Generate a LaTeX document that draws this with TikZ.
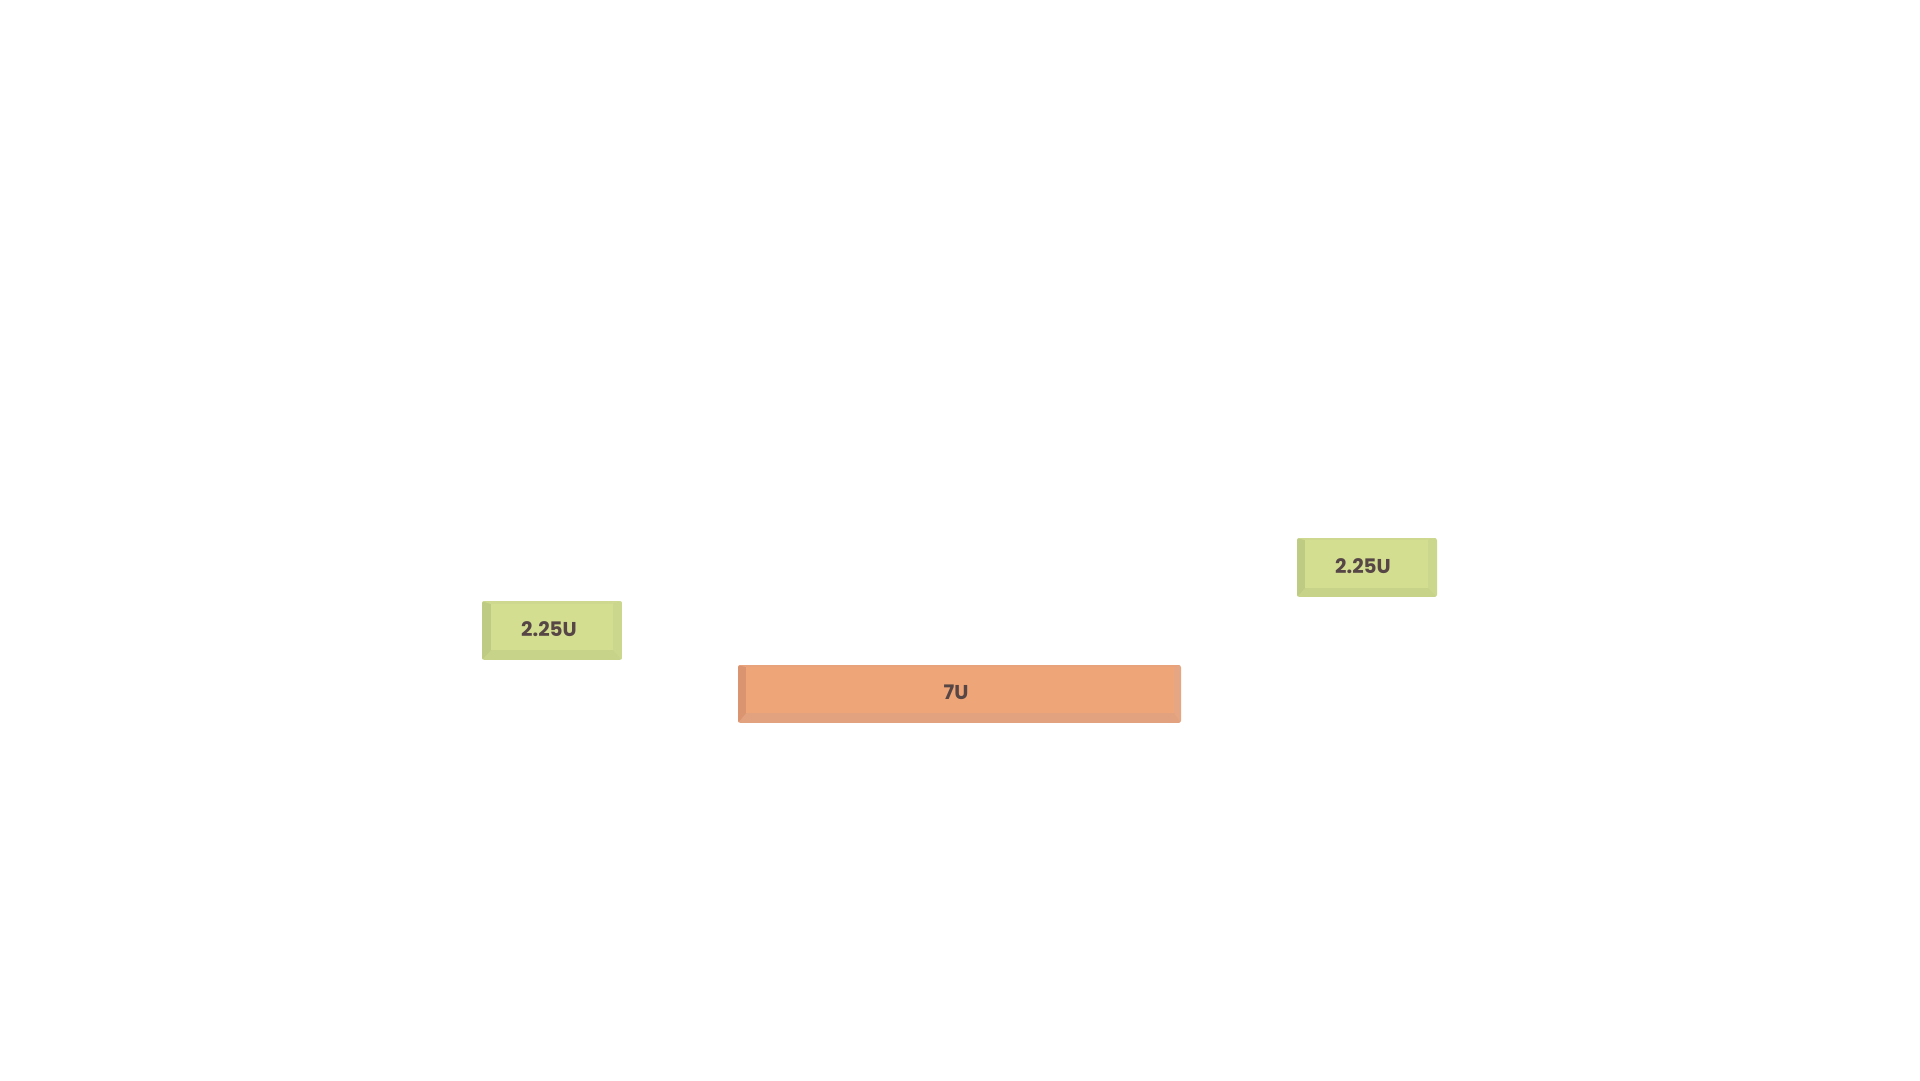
\documentclass[tikz,border=0pt]{standalone}
\usepackage{fontspec}
\setmainfont{Poppins}
\definecolor{gface}{RGB}{211,222,145}
\definecolor{gleft}{RGB}{190,203,130}
\definecolor{gbot}{RGB}{199,211,137}
\definecolor{gright}{RGB}{203,215,141}
\definecolor{gtop}{RGB}{206,217,143}
\definecolor{oface}{RGB}{238,166,120}
\definecolor{oleft}{RGB}{218,149,112}
\definecolor{obot}{RGB}{226,162,127}
\definecolor{oright}{RGB}{230,166,131}
\definecolor{otop}{RGB}{232,162,124}
\definecolor{keytext}{RGB}{86,70,70}
\tikzset{keylabel/.style={text=keytext,font=\fontsize{20}{24}\selectfont\bfseries,inner sep=0pt}}
% #1 colour prefix, #2-#5 outer x1,y1,x2,y2, #6-#9 inner x1,y1,x2,y2
\newcommand{\drawkeycap}[9]{%
  \begin{scope}
    \clip[rounded corners=2.5pt] (#2,#3) rectangle (#4,#5);
    \fill[#1bot] (#2,#3) rectangle (#4,#5);
    \fill[#1left] (#2,#3) -- (#6,#7) -- (#6,#9) -- (#2,#5) -- cycle;
    \fill[#1right] (#4,#3) -- (#8,#7) -- (#8,#9) -- (#4,#5) -- cycle;
    \fill[#1top] (#2,#3) -- (#6,#7) -- (#8,#7) -- (#4,#3) -- cycle;
    \fill[#1face] (#6,#7) rectangle (#8,#9);
  \end{scope}}
\begin{document}
\begin{tikzpicture}[x=1pt,y=-1pt]
\useasboundingbox (0,0) rectangle (1920,1080);
\fill[white] (0,0) rectangle (1920,1080);
\drawkeycap{g}{482}{601}{622}{660}{491}{604}{613}{650}
\node[keylabel] (k1) at (549,629) {2.25U};
\drawkeycap{o}{738}{665}{1181}{723}{746}{667}{1174}{713}
\node[keylabel] (k2) at (956,692) {7U};
\drawkeycap{g}{1297}{538}{1437}{597}{1305}{540}{1428}{588}
\node[keylabel] (k3) at (1363,566) {2.25U};
\end{tikzpicture}
\end{document}
